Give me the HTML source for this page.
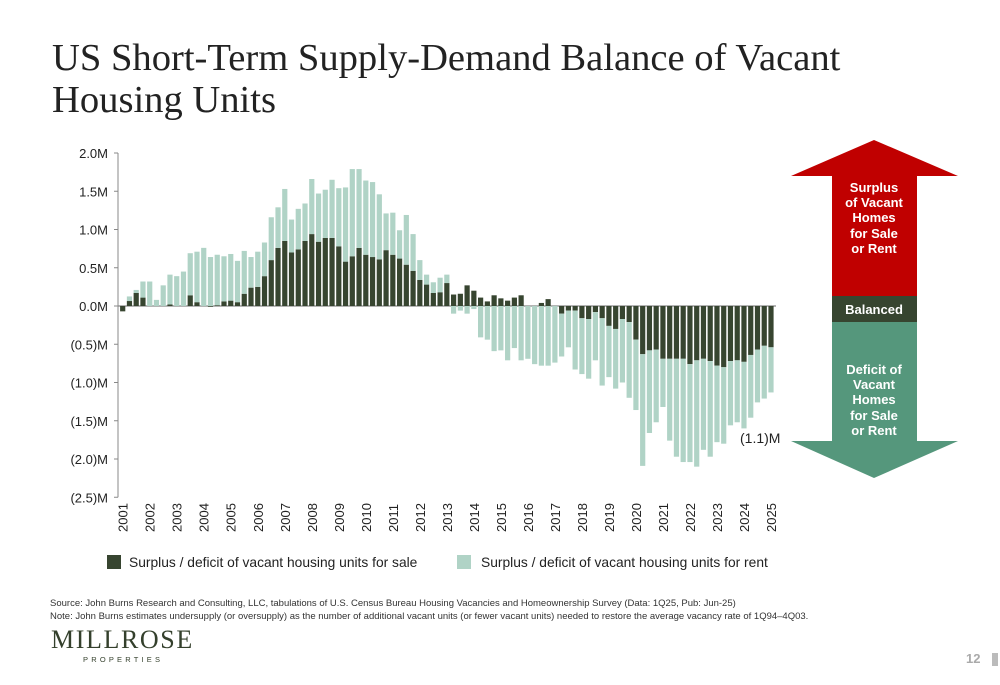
<!DOCTYPE html>
<html><head><meta charset="utf-8"><style>
html,body{margin:0;padding:0;background:#fff;}
body{width:1000px;height:685px;position:relative;overflow:hidden;font-family:"Liberation Sans",sans-serif;}
.title{position:absolute;left:52px;top:37px;font-family:"Liberation Serif",serif;font-size:38.6px;line-height:42px;color:#222;}
.src{position:absolute;left:50px;top:597px;font-size:9.5px;line-height:13px;color:#333;white-space:nowrap;}
.logo{position:absolute;left:51px;top:625px;font-family:"Liberation Serif",serif;font-size:26px;letter-spacing:1.6px;color:#34402c;}
.logo2{position:absolute;left:83px;top:655px;font-size:7.5px;letter-spacing:3.2px;color:#34402c;}
.pg{position:absolute;left:966px;top:651px;font-size:13px;color:#aaa;font-weight:bold;}
.pgbar{position:absolute;left:992px;top:653px;width:6px;height:13px;background:#bbb;}
</style></head><body>
<div class="title">US Short-Term Supply-Demand Balance of Vacant<br>Housing Units</div>
<svg id="chart" width="1000" height="685" style="position:absolute;left:0;top:0">
<g id="axes"></g><g id="bars"></g>
<g font-family="Liberation Sans, sans-serif" font-weight="bold" font-size="13" fill="#fff" text-anchor="middle">
<polygon points="874,140 958,176 917,176 917,296 832,296 832,176 791,176" fill="#c00000"/>
<rect x="832" y="296" width="85" height="26" fill="#374530"/>
<polygon points="832,322 917,322 917,441 958,441 874,478 791,441 832,441" fill="#55977c"/>
<text x="874" y="192">Surplus</text><text x="874" y="207">of Vacant</text><text x="874" y="222">Homes</text><text x="874" y="238">for Sale</text><text x="874" y="253">or Rent</text>
<text x="874" y="314">Balanced</text>
<text x="874" y="374">Deficit of</text><text x="874" y="389">Vacant</text><text x="874" y="404">Homes</text><text x="874" y="420">for Sale</text><text x="874" y="435">or Rent</text>
</g>
<text x="740" y="443" font-size="14" fill="#222">(1.1)M</text>
<g font-size="13.8" fill="#222">
<rect x="107" y="555" width="14" height="14" fill="#374530"/><text x="129" y="567">Surplus / deficit of vacant housing units for sale</text>
<rect x="457" y="555" width="14" height="14" fill="#b0d3c6"/><text x="481" y="567">Surplus / deficit of vacant housing units for rent</text>
</g>
</svg>
<div class="src">Source: John Burns Research and Consulting, LLC, tabulations of U.S. Census Bureau Housing Vacancies and Homeownership Survey (Data: 1Q25, Pub: Jun-25)<br>Note: John Burns estimates undersupply (or oversupply) as the number of additional vacant units (or fewer vacant units) needed to restore the average vacancy rate of 1Q94–4Q03.</div>
<div class="logo">MILLROSE</div>
<div class="logo2">PROPERTIES</div>
<div class="pg">12</div><div class="pgbar"></div>
<script>
const years=[2001,2002,2003,2004,2005,2006,2007,2008,2009,2010,2011,2012,2013,2014,2015,2016,2017,2018,2019,2020,2021,2022,2023,2024,2025];
const yTicks=[2,1.5,1,0.5,0,-0.5,-1,-1.5,-2,-2.5];
const yTickLabels=["2.0M","1.5M","1.0M","0.5M","0.0M","(0.5)M","(1.0)M","(1.5)M","(2.0)M","(2.5)M"];
const saleValues=[-0.07,0.065,0.17,0.11,0,0,0,0.02,0,0,0.14,0.05,0,-0.01,0.01,0.06,0.07,0.05,0.16,0.24,0.25,0.39,0.6,0.76,0.85,0.7,0.74,0.85,0.94,0.84,0.89,0.89,0.78,0.58,0.65,0.76,0.67,0.64,0.61,0.73,0.67,0.62,0.54,0.46,0.34,0.28,0.17,0.18,0.3,0.15,0.16,0.27,0.2,0.11,0.06,0.14,0.1,0.07,0.11,0.14,0,0,0.04,0.09,0,-0.1,-0.06,-0.06,-0.16,-0.17,-0.08,-0.16,-0.26,-0.3,-0.17,-0.21,-0.44,-0.63,-0.58,-0.57,-0.69,-0.69,-0.69,-0.69,-0.76,-0.71,-0.69,-0.72,-0.78,-0.8,-0.72,-0.71,-0.73,-0.64,-0.57,-0.52,-0.54];
const rentValues=[0,0.06,0.04,0.21,0.32,0.08,0.27,0.39,0.39,0.45,0.55,0.66,0.76,0.64,0.66,0.59,0.61,0.54,0.56,0.4,0.46,0.44,0.56,0.53,0.68,0.43,0.53,0.49,0.72,0.63,0.63,0.76,0.76,0.97,1.14,1.03,0.97,0.98,0.85,0.48,0.55,0.37,0.65,0.48,0.26,0.13,0.14,0.19,0.11,-0.1,-0.06,-0.1,-0.04,-0.41,-0.44,-0.59,-0.58,-0.71,-0.55,-0.71,-0.69,-0.76,-0.78,-0.78,-0.74,-0.56,-0.48,-0.77,-0.73,-0.78,-0.63,-0.88,-0.67,-0.78,-0.83,-0.99,-0.92,-1.46,-1.08,-0.95,-0.63,-1.07,-1.28,-1.35,-1.28,-1.39,-1.19,-1.25,-1.0,-1.0,-0.84,-0.81,-0.87,-0.82,-0.69,-0.69,-0.59];
const NS="http://www.w3.org/2000/svg";
const x0=122.7,dx=6.753,zeroY=306,pxPerM=76.5;
function xs(i){return x0+i*dx;}
function ys(v){return zeroY-v*pxPerM;}
function mk(tag,attrs,parent){const e=document.createElementNS(NS,tag);for(const k in attrs)e.setAttribute(k,attrs[k]);parent.appendChild(e);return e;}
const axes=document.getElementById('axes'),bars=document.getElementById('bars');
const ax=mk('line',{x1:118,x2:118,y1:ys(2),y2:ys(-2.5),stroke:'#888','stroke-width':1},axes);


yTicks.forEach((t,i)=>{
  mk('line',{x1:114,x2:118,y1:ys(t),y2:ys(t),stroke:'#888'},axes);
  const tx=mk('text',{x:108,y:ys(t)+5,'text-anchor':'end','font-size':13,fill:'#222'},axes);
  tx.textContent=yTickLabels[i];
  
  
});
saleValues.forEach((s,i)=>{
  const r=rentValues[i];const x=xs(i)-2.6,w=5.2;
  const sr=mk('rect',{x:x,y:Math.min(ys(s),zeroY),width:w,height:Math.abs(s)*pxPerM,fill:'#374530'},bars);
  
  
  const base=(s*r>0)?s:0;const top=base+r;
  const rr=mk('rect',{x:x,y:Math.min(ys(base),ys(top)),width:w,height:Math.abs(r)*pxPerM,fill:'#b0d3c6'},bars);
  
  
});
const zl=mk('line',{x1:118,x2:776,y1:zeroY,y2:zeroY,stroke:'#888','stroke-width':1.2},axes);


years.forEach((y,k)=>{
  const cx=xs(k*4);
  const t=mk('text',{x:0,y:0,transform:`translate(${cx+5},532) rotate(-90)`,'font-size':13,fill:'#222'},axes);
  t.textContent=y;
  
  
});
</script>
</body></html>
